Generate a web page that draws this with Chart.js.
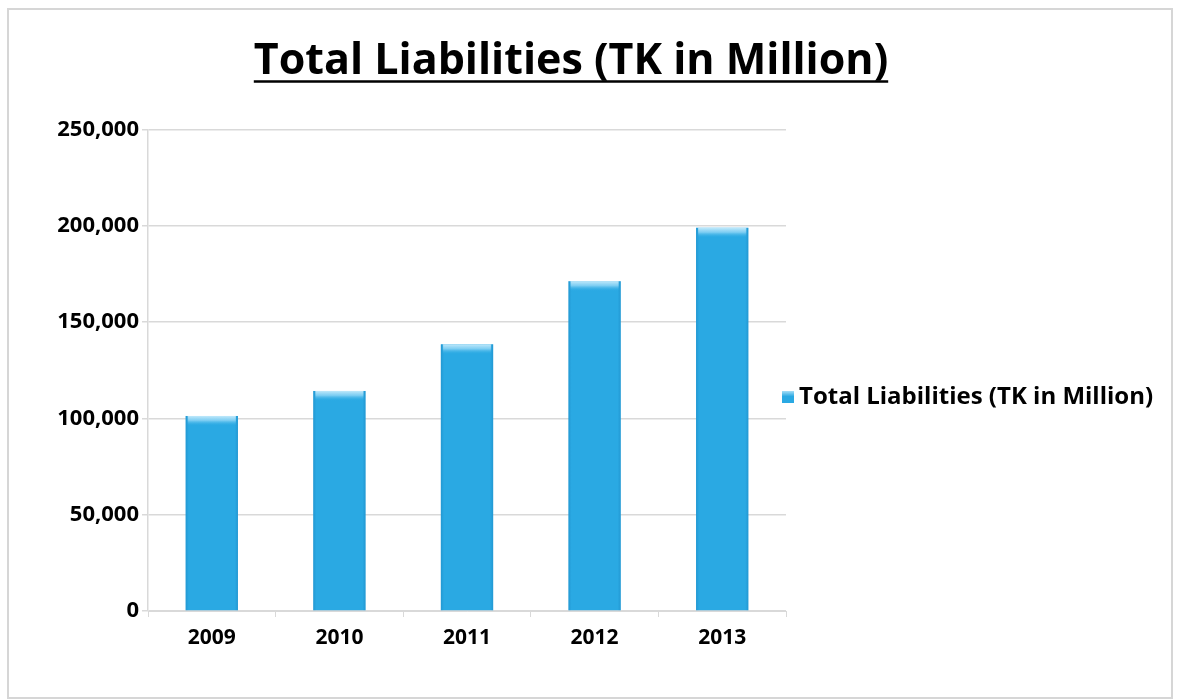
<!DOCTYPE html>
<html>
<head>
<meta charset="utf-8">
<title>Total Liabilities (TK in Million)</title>
<script src="https://cdn.jsdelivr.net/npm/chart.js@4.4.1/dist/chart.umd.min.js"></script>
<style>
  html, body { margin: 0; padding: 0; background: #ffffff; overflow: hidden; }
  #wrap { width: 1179px; height: 699px; position: relative; }
</style>
</head>
<body>
<div id="wrap"><canvas id="chart" width="1179" height="699"></canvas></div>
<script>
// Data
const categories = ['2009', '2010', '2011', '2012', '2013'];
const liabilities = [101300, 114300, 138500, 171300, 199000];
const yMin = 0;
const yMax = 250000;
const yStep = 50000;
const seriesLabel = 'Total Liabilities (TK in Million)';
const chartTitle = 'Total Liabilities (TK in Million)';

const FONT = '"Open Sans", Lato, "DejaVu Sans", sans-serif';
const BAR_BLUE = '#2AA9E3';
const GRID_GREY = '#D9D9D9';

// Outer frame around the whole chart
const framePlugin = {
  id: 'frame',
  beforeDraw(chart) {
    const ctx = chart.ctx;
    ctx.save();
    ctx.fillStyle = '#ffffff';
    ctx.fillRect(0, 0, chart.width, chart.height);
    ctx.strokeStyle = '#D6D6D6';
    ctx.lineWidth = 2;
    ctx.strokeRect(8, 9, 1164, 689);
    ctx.restore();
  }
};

// Underline beneath the chart title
const titleUnderline = {
  id: 'titleUnderline',
  afterDraw(chart) {
    const tb = chart.titleBlock;
    if (!tb) return;
    const ctx = chart.ctx;
    const f = chart.options.plugins.title.font;
    ctx.save();
    ctx.font = `${f.weight} ${f.size}px ${f.family}`;
    const w = ctx.measureText(chartTitle).width;
    const cx = tb.left + tb.width / 2;
    const y = tb.top + tb.options.padding.top + f.size * 1.2 / 2 + f.size * 0.46;
    ctx.strokeStyle = '#000000';
    ctx.lineWidth = 2.5;
    ctx.beginPath();
    ctx.moveTo(cx - w / 2, y);
    ctx.lineTo(cx + w / 2, y);
    ctx.stroke();
    ctx.restore();
  }
};

// Light bevel on the top of each bar
const barBevel = {
  id: 'barBevel',
  afterDatasetsDraw(chart) {
    const ctx = chart.ctx;
    const meta = chart.getDatasetMeta(0);
    ctx.save();
    meta.data.forEach(bar => {
      const left = bar.x - bar.width / 2;
      const top = bar.y;
      const h = 10;
      const g = ctx.createLinearGradient(0, top, 0, top + h);
      g.addColorStop(0, 'rgba(200,236,252,0.95)');
      g.addColorStop(0.45, 'rgba(140,212,245,0.85)');
      g.addColorStop(1, 'rgba(42,170,228,0)');
      ctx.fillStyle = g;
      ctx.fillRect(left + 2, top, bar.width - 4, h);
      // subtle darker side edges
      const e = ctx.createLinearGradient(left, 0, left + bar.width, 0);
      e.addColorStop(0, 'rgba(20,120,180,0.35)');
      e.addColorStop(0.06, 'rgba(20,120,180,0)');
      e.addColorStop(0.94, 'rgba(20,120,180,0)');
      e.addColorStop(1, 'rgba(20,120,180,0.35)');
      ctx.fillStyle = e;
      ctx.fillRect(left, top, bar.width, bar.base - top);
    });
    ctx.restore();
  }
};

// Legend entry to the right of the plot
const sideLegend = {
  id: 'sideLegend',
  afterDraw(chart) {
    const ctx = chart.ctx;
    const ds = chart.data.datasets[0];
    const x = chart.chartArea.right - 4;
    const y = 397;
    ctx.save();
    const g = ctx.createLinearGradient(0, y - 6, 0, y + 6);
    g.addColorStop(0, '#A6DEF7');
    g.addColorStop(0.45, ds.backgroundColor);
    g.addColorStop(1, ds.backgroundColor);
    ctx.fillStyle = g;
    ctx.fillRect(x, y - 6, 12, 12);
    ctx.fillStyle = '#000000';
    ctx.font = `bold 24px ${FONT}`;
    ctx.textBaseline = 'middle';
    ctx.textAlign = 'left';
    ctx.fillText(ds.label, x + 17, y);
    ctx.restore();
  }
};

new Chart(document.getElementById('chart'), {
  type: 'bar',
  data: {
    labels: categories,
    datasets: [{
      label: seriesLabel,
      data: liabilities,
      backgroundColor: BAR_BLUE,
      borderWidth: 0,
      categoryPercentage: 1.0,
      barPercentage: 0.41
    }]
  },
  options: {
    responsive: false,
    animation: false,
    devicePixelRatio: 1,
    layout: { padding: { left: 0, right: 37, top: 0, bottom: 0 } },
    plugins: {
      legend: { display: false },
      tooltip: { enabled: false },
      title: {
        display: true,
        text: chartTitle,
        color: '#000000',
        font: { family: FONT, size: 43, weight: 'bold' },
        padding: { top: 36, bottom: 42 }
      }
    },
    scales: {
      x: {
        grid: {
          display: true,
          offset: true,
          drawOnChartArea: false,
          drawTicks: true,
          tickLength: 6,
          color: GRID_GREY
        },
        border: { display: true, color: GRID_GREY, width: 1 },
        ticks: {
          color: '#000000',
          font: { family: FONT, size: 21, weight: 'bold' },
          padding: 8
        },
        afterFit(scale) { scale.height = 88; }
      },
      y: {
        min: yMin,
        max: yMax,
        grid: {
          color: GRID_GREY,
          lineWidth: 1.5,
          drawTicks: true,
          tickLength: 6
        },
        border: { display: true, color: GRID_GREY, width: 1.5 },
        ticks: {
          stepSize: yStep,
          color: '#000000',
          padding: 3,
          font: { family: FONT, size: 22, weight: 'bold' },
          callback: v => v.toLocaleString('en-US')
        },
        afterFit(scale) { scale.width = 148; }
      },
      // empty right-hand scale reserving room for the legend entry
      legendSpace: {
        type: 'linear',
        position: 'right',
        min: 0,
        max: 1,
        display: true,
        grid: { display: false, drawOnChartArea: false },
        border: { display: false },
        ticks: { display: false },
        afterFit(scale) { scale.width = 356; }
      }
    }
  },
  plugins: [framePlugin, titleUnderline, barBevel, sideLegend]
});
</script>
</body>
</html>
